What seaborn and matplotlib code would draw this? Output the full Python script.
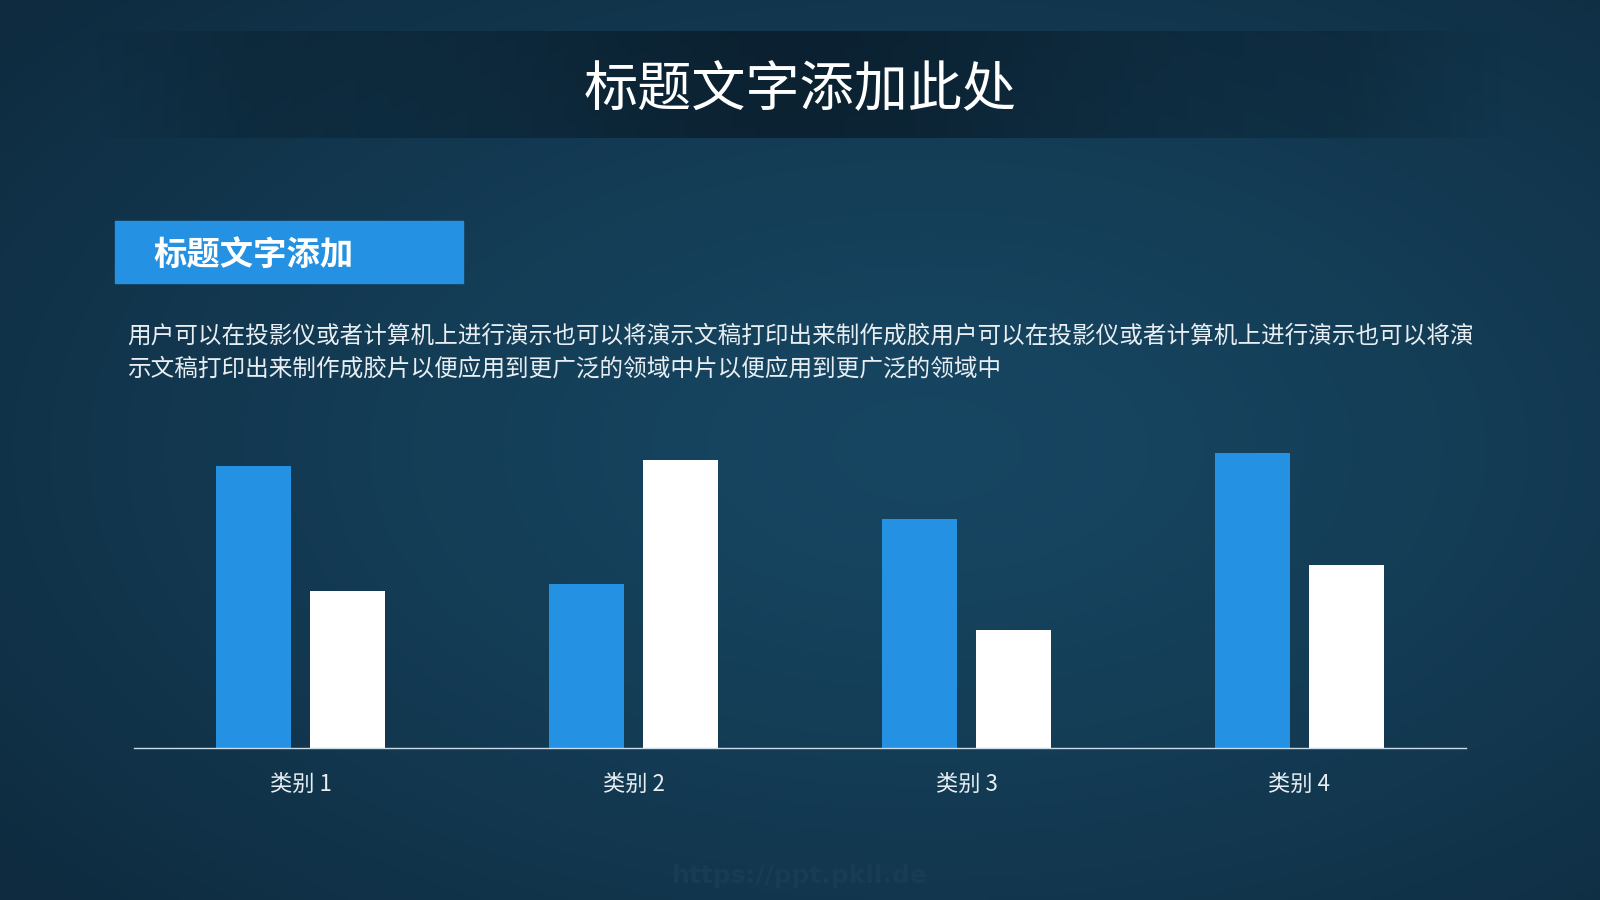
import numpy as np
import pandas as pd
import matplotlib.pyplot as plt
from matplotlib.patches import Rectangle
import seaborn as sns

# chart data
categories = ["类别 1", "类别 2", "类别 3", "类别 4"]
series_names = ["系列 1", "系列 2"]
series_1 = [4.3, 2.5, 3.5, 4.5]
series_2 = [2.4, 4.4, 1.8, 2.8]

title_text = "标题文字添加此处"
box_text = "标题文字添加"
body_lines = [
    "用户可以在投影仪或者计算机上进行演示也可以将演示文稿打印出来制作成胶用户可以在投影仪或者计算机上进行演示也可以将演",
    "示文稿打印出来制作成胶片以便应用到更广泛的领域中片以便应用到更广泛的领域中",
]
watermark = "https://ppt.pkll.de"

BLUE = "#2491E2"
TEXT = "#E8EEF2"

sns.set_theme(style="white")
plt.rcParams['font.family'] = ['Noto Sans CJK SC', 'DejaVu Sans']

fig = plt.figure(figsize=(16, 9), dpi=100)

# background gradient (dark navy, a bit lighter in the middle)
bg = fig.add_axes([0, 0, 1, 1])
bg.axis("off")
yy, xx = np.mgrid[0:1:300j, 0:1:534j]
r = np.sqrt(((xx - 0.58) / 0.75) ** 2 + ((yy - 0.5) / 0.75) ** 2)
t = np.clip(r, 0, 1)[..., None] ** 1.3
light = np.array([0x17, 0x46, 0x62]) / 255
dark = np.array([0x0E, 0x2B, 0x3F]) / 255
bg.imshow(light * (1 - t) + dark * t, extent=[0, 1, 0, 1], aspect="auto", origin="lower")

# title band with soft horizontal edges
xs = np.linspace(0, 1, 800)
alpha = 0.3 + 0.4 * np.exp(-((xs - 0.5) / 0.18) ** 2)
alpha *= np.clip((xs - 0.06) / 0.1, 0, 1) * np.clip((0.94 - xs) / 0.1, 0, 1)
band = np.zeros((1, len(xs), 4))
band[..., :3] = np.array([0x08, 0x18, 0x24]) / 255
band[..., 3] = alpha
bg.imshow(band, extent=[0, 1, 1 - 138 / 900, 1 - 31 / 900], aspect="auto", origin="lower")
bg.set_xlim(0, 1)
bg.set_ylim(0, 1)

fig.text(0.5, 1 - 91 / 900, title_text, ha="center", va="center",
         color="white", fontsize=39)

# blue label box
bg.add_patch(Rectangle((115 / 1600, 1 - 283 / 900), 348 / 1600, 62 / 900,
                       color=BLUE, zorder=3))
fig.text(153 / 1600, 1 - 255 / 900, box_text, ha="left", va="center",
         color="white", fontsize=24, fontweight="bold", zorder=4)

# paragraph
for i, line in enumerate(body_lines):
    fig.text(127 / 1600, 1 - (336 + 33 * i) / 900, line, ha="left", va="center",
             color=TEXT, fontsize=17)

fig.text(0.5, 1 - 876 / 900, watermark, ha="center", va="center",
         color="#173C53", fontsize=18, fontweight="bold", family="DejaVu Sans")

# bar chart
df = pd.DataFrame({
    "category": categories * 2,
    "series": [series_names[0]] * 4 + [series_names[1]] * 4,
    "value": series_1 + series_2,
})

ax = fig.add_axes([134 / 1600, 152 / 900, 1332 / 1600, 327.5 / 900])
ax.set_facecolor("none")
sns.barplot(data=df, x="category", y="value", hue="series",
            palette=[BLUE, "#FFFFFF"], width=0.57, gap=0.21,
            saturation=1, legend=False, ax=ax, edgecolor="none")
ax.set_xlim(-0.5, 3.5)
ax.set_ylim(0, 5)
ax.set_xlabel("")
ax.set_ylabel("")
ax.set_yticks([])
for side in ["top", "right", "left"]:
    ax.spines[side].set_visible(False)
ax.spines["bottom"].set_color("#C9DCE8")
ax.spines["bottom"].set_linewidth(1)
ax.tick_params(axis="x", length=0, pad=18, labelsize=16, labelcolor=TEXT)

fig.savefig("out.png", dpi=100)
